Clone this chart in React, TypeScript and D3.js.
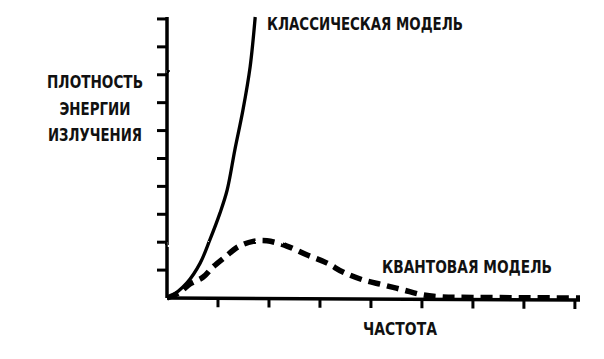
import React, { useMemo } from 'react'
import * as d3 from 'd3'

// values (frequency in tick units, density in tick units)
const classicalX = [0, 0.06, 0.39, 0.65, 0.84, 1.04, 1.18, 1.33, 1.49, 1.63, 1.73]
const classicalY = [0, 0.04, 0.54, 1.25, 2.08, 3.05, 3.87, 5.3, 6.74, 8.28, 10.07]

const quantumX = [0, 0.25, 0.45, 0.71, 0.9, 1.14, 1.39, 1.69, 1.96, 2.35, 2.75, 3.14, 3.45, 3.84, 4.24, 4.63, 5.02, 5.41, 6, 7, 8.1]
const quantumY = [0, 0.2, 0.5, 0.75, 1.11, 1.47, 1.83, 2.03, 2.05, 1.86, 1.54, 1.25, 0.93, 0.65, 0.47, 0.29, 0.11, 0.04, 0.02, 0.01, 0]

const xTicks = [1, 2, 3, 4, 5, 6, 7, 8]
const yTicks = [1, 2, 3, 4, 5, 6, 7, 8, 9, 10]

const yLabelLines = ['ПЛОТНОСТЬ', 'ЭНЕРГИИ', 'ИЗЛУЧЕНИЯ']
const xLabel = 'ЧАСТОТА'
const classicalLabel = 'КЛАССИЧЕСКАЯ МОДЕЛЬ'
const quantumLabel = 'КВАНТОВАЯ МОДЕЛЬ'

const width = 604
const height = 359
const font = '"DejaVu Sans", sans-serif'

export default function App() {
    const xScale = useMemo(() => d3.scaleLinear().domain([0, 8.1]).range([167, 580]), [])
    const yScale = useMemo(() => d3.scaleLinear().domain([0, 10.07]).range([298, 17]), [])

    const line = useMemo(() => (
        d3.line<[number, number]>()
            .x(d => xScale(d[0]))
            .y(d => yScale(d[1]))
            .curve(d3.curveCatmullRom)
    ), [xScale, yScale])

    const classical = line(classicalX.map((x, i) => [x, classicalY[i]]))
    const quantum = line(quantumX.map((x, i) => [x, quantumY[i]]))

    const x0 = xScale(0)
    const y0 = yScale(0)

    return (
        <svg width={width} height={height} style={{ position: 'absolute', left: 0, top: 0, background: '#fff' }}>
            <defs>
                <filter id="rough" x="-5%" y="-5%" width="110%" height="110%">
                    <feTurbulence type="fractalNoise" baseFrequency="0.08" numOctaves="2" seed="3" result="n" />
                    <feDisplacementMap in="SourceGraphic" in2="n" scale="1.6" />
                </filter>
            </defs>
            <g filter="url(#rough)" fill="none" stroke="#000">
                {/* axes */}
                <line x1={x0} y1={y0} x2={x0} y2={yScale(10.07)} strokeWidth={3.5} />
                <line x1={x0} y1={y0} x2={xScale(8.1)} y2={y0 + 2} strokeWidth={3.5} />
                {yTicks.map(t => (
                    <line key={t} x1={x0 - 10} x2={x0} y1={yScale(t)} y2={yScale(t)} strokeWidth={3} />
                ))}
                {xTicks.map(t => (
                    <line key={t} x1={xScale(t)} x2={xScale(t)} y1={y0 + 1 + t * 0.25} y2={y0 + 9 + t * 0.25} strokeWidth={3} />
                ))}
                <path d={classical ?? ''} strokeWidth={3.3} />
                <path d={quantum ?? ''} strokeWidth={5.5} strokeDasharray="12 7" />
            </g>
            <g fontFamily={font} fontWeight="bold" fill="#111" fontSize={17.5}>
                {yLabelLines.map((s, i) => (
                    <text key={s} x={95} y={88 + i * 26.5} textAnchor="middle"
                        textLength={[96, 71, 94][i]} lengthAdjust="spacingAndGlyphs">{s}</text>
                ))}
                <text x={267} y={30} textLength={196} lengthAdjust="spacingAndGlyphs">{classicalLabel}</text>
                <text x={382} y={273} textLength={170} lengthAdjust="spacingAndGlyphs">{quantumLabel}</text>
                <text x={363} y={335} textLength={74} lengthAdjust="spacingAndGlyphs">{xLabel}</text>
            </g>
        </svg>
    )
}
